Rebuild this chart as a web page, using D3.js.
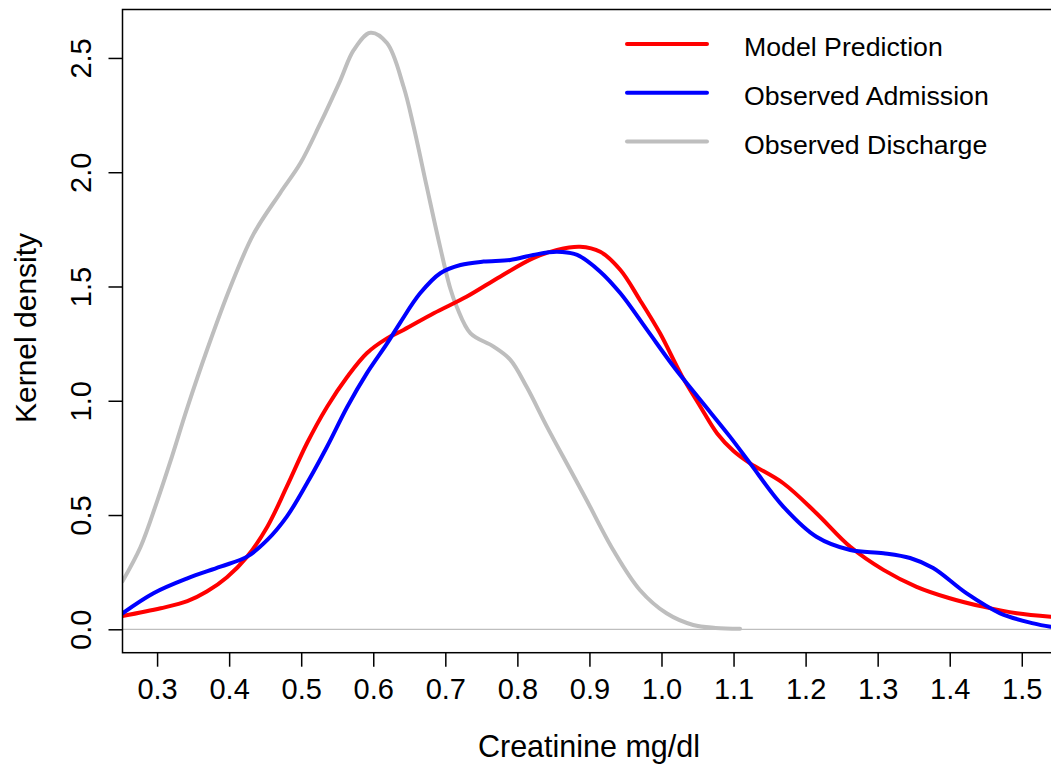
<!DOCTYPE html>
<html>
<head>
<meta charset="utf-8">
<script src="https://cdn.jsdelivr.net/npm/d3@7"></script>
<style>
  body { margin: 0; background: #fff; }
  svg { display: block; font-family: "Liberation Sans", Arial, Helvetica, sans-serif; }
</style>
</head>
<body>
<script>
// density curves (creatinine mg/dl vs kernel density)
var redX = [0.252,0.305,0.342,0.369,0.397,0.425,0.453,0.480,0.508,0.536,0.564,0.591,0.619,0.642,0.684,0.730,0.776,0.822,0.855,0.887,0.915,0.943,0.970,0.998,1.028,1.054,1.077,1.100,1.123,1.169,1.215,1.262,1.308,1.354,1.400,1.446,1.493,1.540];
var redY = [0.058,0.092,0.123,0.165,0.228,0.318,0.449,0.624,0.814,0.974,1.105,1.208,1.273,1.310,1.383,1.456,1.543,1.624,1.660,1.674,1.652,1.572,1.441,1.295,1.110,0.974,0.858,0.780,0.726,0.639,0.508,0.361,0.260,0.186,0.136,0.099,0.070,0.055];

var blueX = [0.252,0.295,0.342,0.388,0.425,0.453,0.480,0.508,0.536,0.564,0.591,0.619,0.637,0.665,0.693,0.721,0.753,0.790,0.822,0.855,0.883,0.915,0.943,0.980,1.017,1.054,1.095,1.123,1.169,1.215,1.262,1.308,1.345,1.377,1.423,1.470,1.516,1.540];
var blueY = [0.070,0.158,0.223,0.274,0.318,0.391,0.493,0.639,0.800,0.974,1.120,1.250,1.340,1.470,1.558,1.594,1.609,1.616,1.638,1.652,1.638,1.565,1.470,1.310,1.149,1.003,0.843,0.726,0.537,0.405,0.347,0.333,0.312,0.268,0.158,0.070,0.026,0.011];

var grayX = [0.252,0.277,0.300,0.318,0.342,0.369,0.402,0.434,0.471,0.499,0.526,0.554,0.573,0.596,0.619,0.642,0.656,0.674,0.693,0.707,0.716,0.735,0.767,0.790,0.813,0.841,0.873,0.896,0.933,0.970,1.007,1.044,1.075,1.109];
var grayY = [0.210,0.360,0.560,0.730,0.970,1.220,1.500,1.730,1.910,2.040,2.210,2.400,2.535,2.610,2.565,2.375,2.200,1.940,1.670,1.490,1.410,1.295,1.237,1.180,1.060,0.887,0.700,0.566,0.347,0.172,0.070,0.019,0.006,0.002];

var seriesNames = ["Model Prediction", "Observed Admission", "Observed Discharge"];
var seriesColors = ["#ff0000", "#0000ff", "#bebebe"];

var xTicks = [0.3,0.4,0.5,0.6,0.7,0.8,0.9,1.0,1.1,1.2,1.3,1.4,1.5];
var yTicks = [0.0,0.5,1.0,1.5,2.0,2.5];

var width = 1051, height = 767;
var plotL = 122.5, plotR = 1050.6, plotT = 9.5, plotB = 652.7;

var svg = d3.select("body").append("svg")
  .attr("width", width)
  .attr("height", height);

var x = d3.scaleLinear().domain([0.252, 1.54]).range([plotL, plotR]);
var y = d3.scaleLinear().domain([-0.1024, 2.712]).range([plotB, plotT]);

svg.append("clipPath").attr("id", "plotclip")
  .append("rect")
  .attr("x", plotL).attr("y", plotT)
  .attr("width", width - plotL).attr("height", plotB - plotT);

var plot = svg.append("g").attr("clip-path", "url(#plotclip)");

// abline at zero
plot.append("line")
  .attr("x1", plotL).attr("x2", width)
  .attr("y1", y(0)).attr("y2", y(0))
  .attr("stroke", "#bebebe")
  .attr("stroke-width", 1.2);

var line = d3.line()
  .x(function(d) { return x(d[0]); })
  .y(function(d) { return y(d[1]); })
  .curve(d3.curveCatmullRom.alpha(0.5));

var curves = [d3.zip(redX, redY), d3.zip(blueX, blueY), d3.zip(grayX, grayY)];

// gray first so red / blue sit on top
[2, 0, 1].forEach(function(i) {
  plot.append("path")
    .attr("d", line(curves[i]))
    .attr("fill", "none")
    .attr("stroke", seriesColors[i])
    .attr("stroke-width", 4)
    .attr("stroke-linejoin", "round")
    .attr("stroke-linecap", "round");
});

// box (right edge lies outside the window)
svg.append("rect")
  .attr("x", plotL).attr("y", plotT)
  .attr("width", width + 20 - plotL).attr("height", plotB - plotT)
  .attr("fill", "none")
  .attr("stroke", "#000")
  .attr("stroke-width", 1.5);

// x axis
var xAxis = d3.axisBottom(x)
  .tickValues(xTicks)
  .tickSize(14)
  .tickPadding(12)
  .tickFormat(d3.format(".1f"));

var gx = svg.append("g")
  .attr("transform", "translate(0," + plotB + ")")
  .call(xAxis);
gx.select(".domain").remove();
gx.selectAll("line").attr("stroke", "#000").attr("stroke-width", 1.5);
gx.selectAll("text")
  .attr("font-size", 29)
  .attr("fill", "#000")
  .attr("font-family", "Liberation Sans, Arial, sans-serif");

// y axis
var yAxis = d3.axisLeft(y)
  .tickValues(yTicks)
  .tickSize(14)
  .tickFormat(d3.format(".1f"));

var gy = svg.append("g")
  .attr("transform", "translate(" + plotL + ",0)")
  .call(yAxis);
gy.select(".domain").remove();
gy.selectAll("line").attr("stroke", "#000").attr("stroke-width", 1.5);
gy.selectAll("text")
  .attr("font-size", 29)
  .attr("fill", "#000")
  .attr("font-family", "Liberation Sans, Arial, sans-serif")
  .attr("x", null).attr("dy", null)
  .attr("text-anchor", "middle")
  .attr("transform", "translate(-32,0) rotate(-90)");

// axis titles
svg.append("text")
  .attr("x", 589).attr("y", 757)
  .attr("text-anchor", "middle")
  .attr("font-size", 30.5)
  .text("Creatinine mg/dl");

svg.append("text")
  .attr("transform", "translate(35.5,328) rotate(-90)")
  .attr("text-anchor", "middle")
  .attr("font-size", 30)
  .text("Kernel density");

// legend
var legend = svg.append("g");
seriesNames.forEach(function(name, i) {
  var ly = 44 + i * 48.8;
  legend.append("line")
    .attr("x1", 627).attr("x2", 707)
    .attr("y1", ly).attr("y2", ly)
    .attr("stroke", seriesColors[i])
    .attr("stroke-width", 4)
    .attr("stroke-linecap", "round");
  legend.append("text")
    .attr("x", 744).attr("y", ly + 12)
    .attr("font-size", 26.7)
    .text(name);
});
</script>
</body>
</html>
